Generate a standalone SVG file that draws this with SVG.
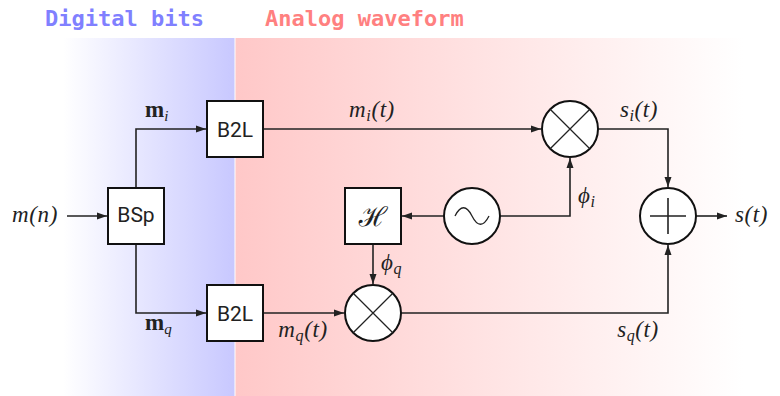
<svg xmlns="http://www.w3.org/2000/svg" width="780" height="396" viewBox="0 0 780 396">
<defs>
<linearGradient id="gb" x1="0" y1="0" x2="1" y2="0"><stop offset="0" stop-color="#ffffff"/><stop offset="1" stop-color="#c8c8ff"/></linearGradient>
<linearGradient id="gr" x1="0" y1="0" x2="1" y2="0"><stop offset="0" stop-color="#ffc8c8"/><stop offset="1" stop-color="#ffffff"/></linearGradient>
<marker id="ar" markerUnits="userSpaceOnUse" markerWidth="10" markerHeight="8" refX="10" refY="4" orient="auto"><path d="M0,0.5 L10,4 L0,7.5 z" fill="#222"/></marker>
<style>
.hd{font-family:"DejaVu Sans Mono",monospace;font-weight:bold;font-size:22px}
.box{fill:#fff;stroke:#111;stroke-width:2}
.lbl{font-family:Roboto,"Liberation Sans",sans-serif;font-size:21px;fill:#222;text-anchor:middle}
.ln{fill:none;stroke:#222;stroke-width:1.6}
.ln2{fill:none;stroke:#222;stroke-width:1.3}
.mt{font-family:"Liberation Serif",serif;font-style:italic;font-size:23px;fill:#222;letter-spacing:0.6px}
.mb{font-family:"Liberation Serif",serif;font-weight:bold;font-size:23px;fill:#222}
.sb{font-size:15px;font-style:italic;font-weight:normal}
</style>
</defs>
<rect x="63" y="38" width="171.5" height="358" fill="url(#gb)"/>
<rect x="235.5" y="38" width="508" height="358" fill="url(#gr)"/>
<text class="hd" x="45" y="26" fill="#8080ff">Digital bits</text>
<text class="hd" x="265" y="26" fill="#ff8080">Analog waveform</text>

<g id="connectors">
<path class="ln" d="M67,216 H107" marker-end="url(#ar)"/>
<path class="ln" d="M136,188 V129 H206" marker-end="url(#ar)"/>
<path class="ln" d="M136,244 V313 H206" marker-end="url(#ar)"/>
<path class="ln" d="M263,129 H541" marker-end="url(#ar)"/>
<path class="ln" d="M263,313 H344" marker-end="url(#ar)"/>
<path class="ln" d="M444,216 H402" marker-end="url(#ar)"/>
<path class="ln" d="M500,216 H570 V158" marker-end="url(#ar)"/>
<path class="ln" d="M373,244 V284" marker-end="url(#ar)"/>
<path class="ln" d="M598,129 H668 V187" marker-end="url(#ar)"/>
<path class="ln" d="M401,313 H668 V245" marker-end="url(#ar)"/>
<path class="ln" d="M696,216 H727" marker-end="url(#ar)"/>
</g>

<g id="input"><text class="mt" x="35" y="222" text-anchor="middle">m(n)</text></g>

<g id="bsp"><rect class="box" x="108" y="188" width="56" height="56"/><text class="lbl" x="136" y="222">BSp</text></g>
<g id="b2l-i"><rect class="box" x="207" y="101" width="56" height="56"/><text class="lbl" x="235" y="137">B2L</text></g>
<g id="b2l-q"><rect class="box" x="207" y="285" width="56" height="56"/><text class="lbl" x="235" y="321">B2L</text></g>
<g id="hilbert"><rect class="box" x="345" y="188" width="56" height="56"/><text x="373" y="226" text-anchor="middle" font-family="'DejaVu Serif','Noto Sans',serif" font-style="italic" font-size="27" fill="#222">ℋ</text></g>
<g id="osc"><circle class="box" cx="472" cy="216" r="28"/><path class="ln2" d="M455,216 C460.5,205 466.5,205 472,216 S483.5,227 489,216"/></g>
<g id="mult-i"><circle class="box" cx="570" cy="129" r="28"/><path class="ln2" d="M550.2,109.2 L589.8,148.8 M589.8,109.2 L550.2,148.8"/></g>
<g id="mult-q"><circle class="box" cx="373" cy="313" r="28"/><path class="ln2" d="M353.2,293.2 L392.8,332.8 M392.8,293.2 L353.2,332.8"/></g>
<g id="adder"><circle class="box" cx="668" cy="216" r="28"/><path class="ln" d="M650,216 H686 M668,198 V234"/></g>

<g id="labels">
<text class="mb" x="145" y="117">m<tspan class="sb" dy="4">i</tspan></text>
<text class="mb" x="145" y="330">m<tspan class="sb" dy="4">q</tspan></text>
<text class="mt" x="372" y="117" text-anchor="middle">m<tspan font-size="16" dy="4">i</tspan><tspan dy="-4">(t)</tspan></text>
<text class="mt" x="303" y="337" text-anchor="middle">m<tspan font-size="16" dy="4">q</tspan><tspan dy="-4">(t)</tspan></text>
<text class="mt" x="639" y="117" text-anchor="middle">s<tspan font-size="16" dy="4">i</tspan><tspan dy="-4">(t)</tspan></text>
<text class="mt" x="638" y="337" text-anchor="middle">s<tspan font-size="16" dy="4">q</tspan><tspan dy="-4">(t)</tspan></text>
<text class="mt" x="578" y="203">ϕ<tspan font-size="16" dy="4">i</tspan></text>
<text class="mt" x="381" y="270">ϕ<tspan font-size="16" dy="4">q</tspan></text>
<text class="mt" x="735" y="222">s(t)</text>
</g>
</svg>
